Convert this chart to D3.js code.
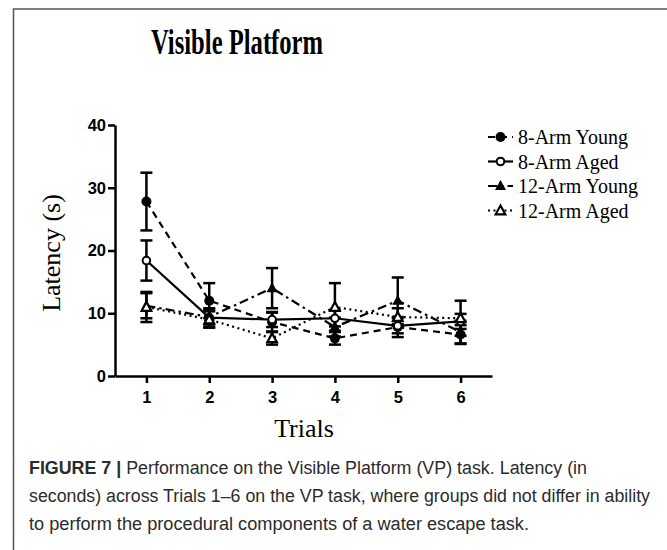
<!DOCTYPE html>
<html>
<head>
<meta charset="utf-8">
<script src="https://cdn.jsdelivr.net/npm/d3@7"></script>
<style>
  body { margin:0; background:#fff; }
  svg { display:block; }
</style>
</head>
<body>
<svg id="chart" width="667" height="550"></svg>
<script>
// data
var trials = [1, 2, 3, 4, 5, 6];
var yTicks = [0, 10, 20, 30, 40];
var groups = ["8-Arm Young", "8-Arm Aged", "12-Arm Young", "12-Arm Aged"];
var young8 = [27.8, 12.0, 8.6, 6.0, 7.8, 6.6];
var young8Err = [4.6, 2.8, 1.5, 1.0, 1.6, 1.5];
var aged8 = [18.4, 9.3, 9.0, 9.2, 8.0, 8.7];
var aged8Err = [3.2, 1.5, 1.2, 1.3, 1.2, 1.2];
var young12 = [11.2, 9.4, 14.0, 7.8, 12.0, 7.0];
var young12Err = [2.0, 1.2, 3.2, 1.5, 3.7, 1.8];
var aged12 = [11.0, 9.0, 6.0, 11.0, 9.4, 9.2];
var aged12Err = [2.4, 1.3, 1.0, 3.8, 1.4, 2.8];

var captionLines = [
  ["FIGURE 7 | ", "Performance on the Visible Platform (VP) task. Latency (in"],
  ["", "seconds) across Trials 1\u20136 on the VP task, where groups did not differ in ability"],
  ["", "to perform the procedural components of a water escape task."]
];

var svg = d3.select("#chart");
var serif = "'Liberation Serif','Times New Roman',serif";
var sans = "'Liberation Sans',Arial,Helvetica,sans-serif";

// frame
svg.append("path")
   .attr("d", "M13.5,550 V9 H667")
   .attr("fill", "none")
   .attr("stroke", "#555")
   .attr("stroke-width", 1.5);

var x = d3.scaleLinear().domain([0.5, 6.5]).range([115, 492]);
var y = d3.scaleLinear().domain([0, 40]).range([376, 125]);

var series = [
  {name: groups[0], v: young8, e: young8Err, dash: "7,5", sym: "fcircle"},
  {name: groups[1], v: aged8, e: aged8Err, dash: null, sym: "ocircle"},
  {name: groups[2], v: young12, e: young12Err, dash: "9,4,2.5,4", sym: "ftri"},
  {name: groups[3], v: aged12, e: aged12Err, dash: "2,3.5", sym: "otri"}
];

// title
svg.append("text")
   .attr("x", 151).attr("y", 54)
   .attr("textLength", 172).attr("lengthAdjust", "spacingAndGlyphs")
   .style("font-family", serif).style("font-weight", "bold").style("font-size", "35px")
   .text("Visible Platform");

// axes
var yAxis = d3.axisLeft(y).tickValues(yTicks).tickSize(7).tickSizeOuter(0).tickPadding(2).tickFormat(d3.format("d"));
var xAxis = d3.axisBottom(x).tickValues(trials).tickSize(7).tickSizeOuter(0).tickPadding(8).tickFormat(d3.format("d"));

var gy = svg.append("g").attr("transform", "translate(115,0)").call(yAxis);
var gx = svg.append("g").attr("transform", "translate(0,376)").call(xAxis);
[gx, gy].forEach(function(g) {
  g.selectAll("path,line").attr("stroke", "#000").attr("stroke-width", 2.5);
  g.selectAll("text").attr("fill", "#000")
   .style("font-family", sans).style("font-weight", "bold").style("font-size", "16.5px");
});

svg.append("text")
   .attr("transform", "translate(60,253) rotate(-90)")
   .attr("text-anchor", "middle")
   .style("font-family", serif).style("font-size", "26px")
   .text("Latency (s)");

svg.append("text")
   .attr("x", 304).attr("y", 437)
   .attr("text-anchor", "middle")
   .style("font-family", serif).style("font-size", "26px")
   .text("Trials");

// marks
function drawSymbol(g, sym) {
  if (sym == "fcircle") {
    g.append("circle").attr("r", 5).attr("fill", "#000");
  } else if (sym == "ocircle") {
    g.append("circle").attr("r", 3.8).attr("fill", "#fff").attr("stroke", "#000").attr("stroke-width", 2);
  } else if (sym == "ftri") {
    g.append("path").attr("d", "M0,-6 L5.5,4 L-5.5,4 Z").attr("fill", "#000");
  } else {
    g.append("path").attr("d", "M0,-5 L4.8,3.8 L-4.8,3.8 Z").attr("fill", "#fff")
     .attr("stroke", "#000").attr("stroke-width", 2.2);
  }
}

var line = d3.line().x(function(d, i) { return x(trials[i]); }).y(function(d) { return y(d); });

series.forEach(function(s) {
  var eg = svg.append("g");
  s.v.forEach(function(v, i) {
    var cx = x(trials[i]);
    eg.append("line").attr("x1", cx).attr("x2", cx)
      .attr("y1", y(v - s.e[i])).attr("y2", y(v + s.e[i]))
      .attr("stroke", "#000").attr("stroke-width", 2.5);
    [v - s.e[i], v + s.e[i]].forEach(function(w) {
      eg.append("line").attr("x1", cx - 6).attr("x2", cx + 6)
        .attr("y1", y(w)).attr("y2", y(w))
        .attr("stroke", "#000").attr("stroke-width", 2.5);
    });
  });
});

series.forEach(function(s) {
  svg.append("path")
     .datum(s.v)
     .attr("d", line)
     .attr("fill", "none")
     .attr("stroke", "#000")
     .attr("stroke-width", 2.2)
     .attr("stroke-dasharray", s.dash);
});

series.forEach(function(s) {
  s.v.forEach(function(v, i) {
    var g = svg.append("g").attr("transform", "translate(" + x(trials[i]) + "," + y(v) + ")");
    drawSymbol(g, s.sym);
  });
});

// legend
var leg = svg.selectAll(".leg")
   .data(series)
   .enter().append("g")
   .attr("class", "leg")
   .attr("transform", function(d, i) { return "translate(488," + (137 + i * 24.5) + ")"; });

leg.append("line")
   .attr("x1", 0).attr("x2", 25)
   .attr("stroke", "#000").attr("stroke-width", 2.2)
   .attr("stroke-dasharray", function(d) { return d.dash; });
leg.each(function(d) {
  var g = d3.select(this).append("g").attr("transform", "translate(12.5,0)");
  drawSymbol(g, d.sym);
});
leg.append("text")
   .attr("x", 30).attr("dy", "0.35em")
   .style("font-family", serif).style("font-size", "20px")
   .text(function(d) { return d.name; });

// caption
var capWidths = [558, 621, 500];
var cap = svg.append("g").style("font-family", sans).style("font-size", "18px").attr("fill", "#2b2b2b");
captionLines.forEach(function(l, i) {
  var t = cap.append("text")
     .attr("x", 29).attr("y", 474 + i * 28)
     .attr("textLength", capWidths[i]).attr("lengthAdjust", "spacingAndGlyphs");
  if (l[0]) t.append("tspan").style("font-weight", "bold").text(l[0]);
  t.append("tspan").text(l[1]);
});
</script>
</body>
</html>
